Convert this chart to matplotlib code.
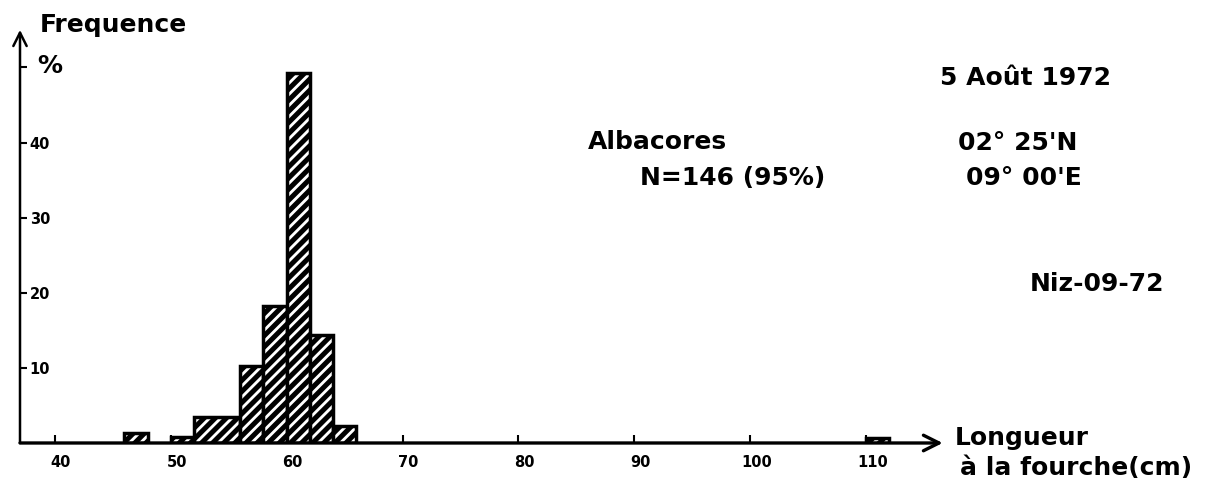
import matplotlib
matplotlib.use("Agg")
from matplotlib import pyplot as plt
from matplotlib import transforms

# fork length classes (cm) and frequency (%)
bin_lo = [46, 50, 52, 56, 58, 60, 62, 64, 110]
bin_hi = [48, 52, 56, 58, 60, 62, 64, 66, 112]
freq = [1.3, 0.8, 3.5, 10.2, 18.3, 49.3, 14.4, 2.2, 0.7]

xticks = [40, 50, 60, 70, 80, 90, 100, 110]
yticks = [10, 20, 30, 40, 50]
ytick_labels = ["10", "20", "30", "40", "%"]

plt.rcParams["font.family"] = ["DejaVu Sans"]
plt.rcParams["hatch.linewidth"] = 3.6

fig = plt.figure(figsize=(12.27, 4.86), dpi=100)
ax = fig.add_axes([0.0163, 0.0885, 0.752, 0.850])

widths = [h - l for l, h in zip(bin_lo, bin_hi)]
ax.bar(bin_lo, freq, widths, align="edge", facecolor="white",
       edgecolor="black", linewidth=2.5, hatch="///")

ax.set_xlim(37, 116.6)
ax.set_ylim(0, 55)

for side in ("top", "right", "left", "bottom"):
    ax.spines[side].set_visible(False)

# axes drawn as arrows
ax.annotate("", xy=(1, 0), xytext=(0, 0), xycoords="axes fraction",
            arrowprops=dict(arrowstyle="->", lw=2.4, mutation_scale=28,
                            shrinkA=0, shrinkB=0), annotation_clip=False)
ax.annotate("", xy=(0, 1), xytext=(0, 0), xycoords="axes fraction",
            arrowprops=dict(arrowstyle="->", lw=1.8, mutation_scale=24,
                            shrinkA=0, shrinkB=0), annotation_clip=False)

shift = transforms.ScaledTranslation(6 / 100, 0, fig.dpi_scale_trans)

ax.set_xticks(xticks)
ax.set_xticklabels([str(t) for t in xticks], fontsize=10.5, fontweight="bold")
ax.tick_params(axis="x", direction="in", length=6, width=1.5, pad=9)
for lab in ax.get_xticklabels():
    lab.set_transform(lab.get_transform() + shift)

ax.set_yticks(yticks)
ax.set_yticklabels(ytick_labels, fontsize=10.5, fontweight="bold")
ax.tick_params(axis="y", direction="in", length=5, width=1.5, pad=-7)
for lab in ax.get_yticklabels():
    lab.set_horizontalalignment("left")
pct = ax.get_yticklabels()[-1]
pct.set_fontsize(18)
pct.set_transform(pct.get_transform()
                  + transforms.ScaledTranslation(8 / 100, 4 / 100, fig.dpi_scale_trans))

big = dict(fontsize=18, fontweight="bold", va="center", ha="left")
W, H = 1227.0, 486.0
fig.text(40 / W, 1 - 25 / H, "Frequence", **big)
fig.text(940 / W, 1 - 78 / H, "5 Août 1972", **big)
fig.text(588 / W, 1 - 142 / H, "Albacores", **big)
fig.text(640 / W, 1 - 178 / H, "N=146 (95%)", **big)
fig.text(958 / W, 1 - 143 / H, "02° 25'N", **big)
fig.text(966 / W, 1 - 178 / H, "09° 00'E", **big)
fig.text(1030 / W, 1 - 284 / H, "Niz-09-72", **big)
fig.text(955 / W, 1 - 438 / H, "Longueur", **big)
fig.text(960 / W, 1 - 468 / H, "à la fourche(cm)", **big)

fig.savefig("out.png", dpi=100)
